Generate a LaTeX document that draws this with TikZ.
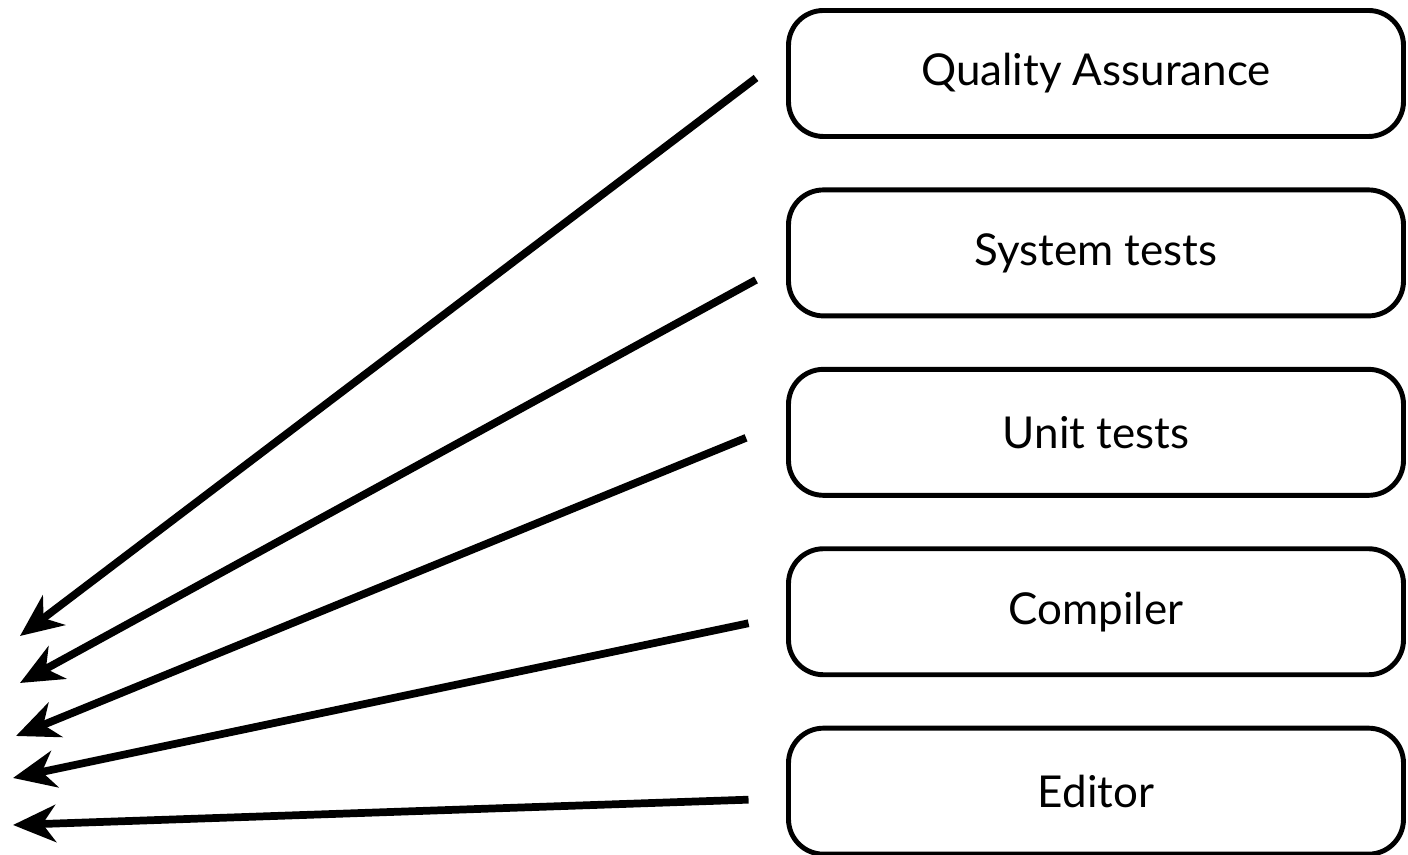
\documentclass[tikz,border=0pt]{standalone}
\usepackage{fontspec}
\setmainfont{Lato}
\usepackage{tikz}
\usetikzlibrary{arrows.meta, positioning, calc}

\tikzset{
    layer/.style={draw, line width=2.8pt, rounded corners=0.7cm,
        minimum width=12.3cm, minimum height=2.52cm,
        font=\fontsize{25}{30}\selectfont},
    feedback/.style={line width=4.4pt,
        -{Stealth[length=0.85cm, width=0.74cm, inset=0.26cm]}}
}

\begin{document}
\begin{tikzpicture}[node distance=0.97cm]
    \useasboundingbox (0,0) rectangle (28.16,17.1);
    \node[layer] (qa) at (21.92,15.63) {Quality Assurance};
    \node[layer, below=of qa] (system) {System tests};
    \node[layer, below=of system] (unit) {Unit tests};
    \node[layer, below=of unit] (compiler) {Compiler};
    \node[layer, below=of compiler] (editor) {Editor};
    % arrow tips on the left
    \coordinate (t1) at (0.4,4.38);
    \coordinate (t2) at (0.4,3.44);
    \coordinate (t3) at (0.32,2.38);
    \coordinate (t4) at (0.26,1.54);
    \coordinate (t5) at (0.26,0.6);
    \draw[feedback] ([shift={(-0.6,-0.09)}]qa.west) -- (t1);
    \draw[feedback] ([shift={(-0.6,-0.54)}]system.west) -- (t2);
    \draw[feedback] ([shift={(-0.8,-0.11)}]unit.west) -- (t3);
    \draw[feedback] ([shift={(-0.75,-0.23)}]compiler.west) -- (t4);
    \draw[feedback] ([shift={(-0.75,-0.17)}]editor.west) -- (t5);
\end{tikzpicture}
\end{document}
